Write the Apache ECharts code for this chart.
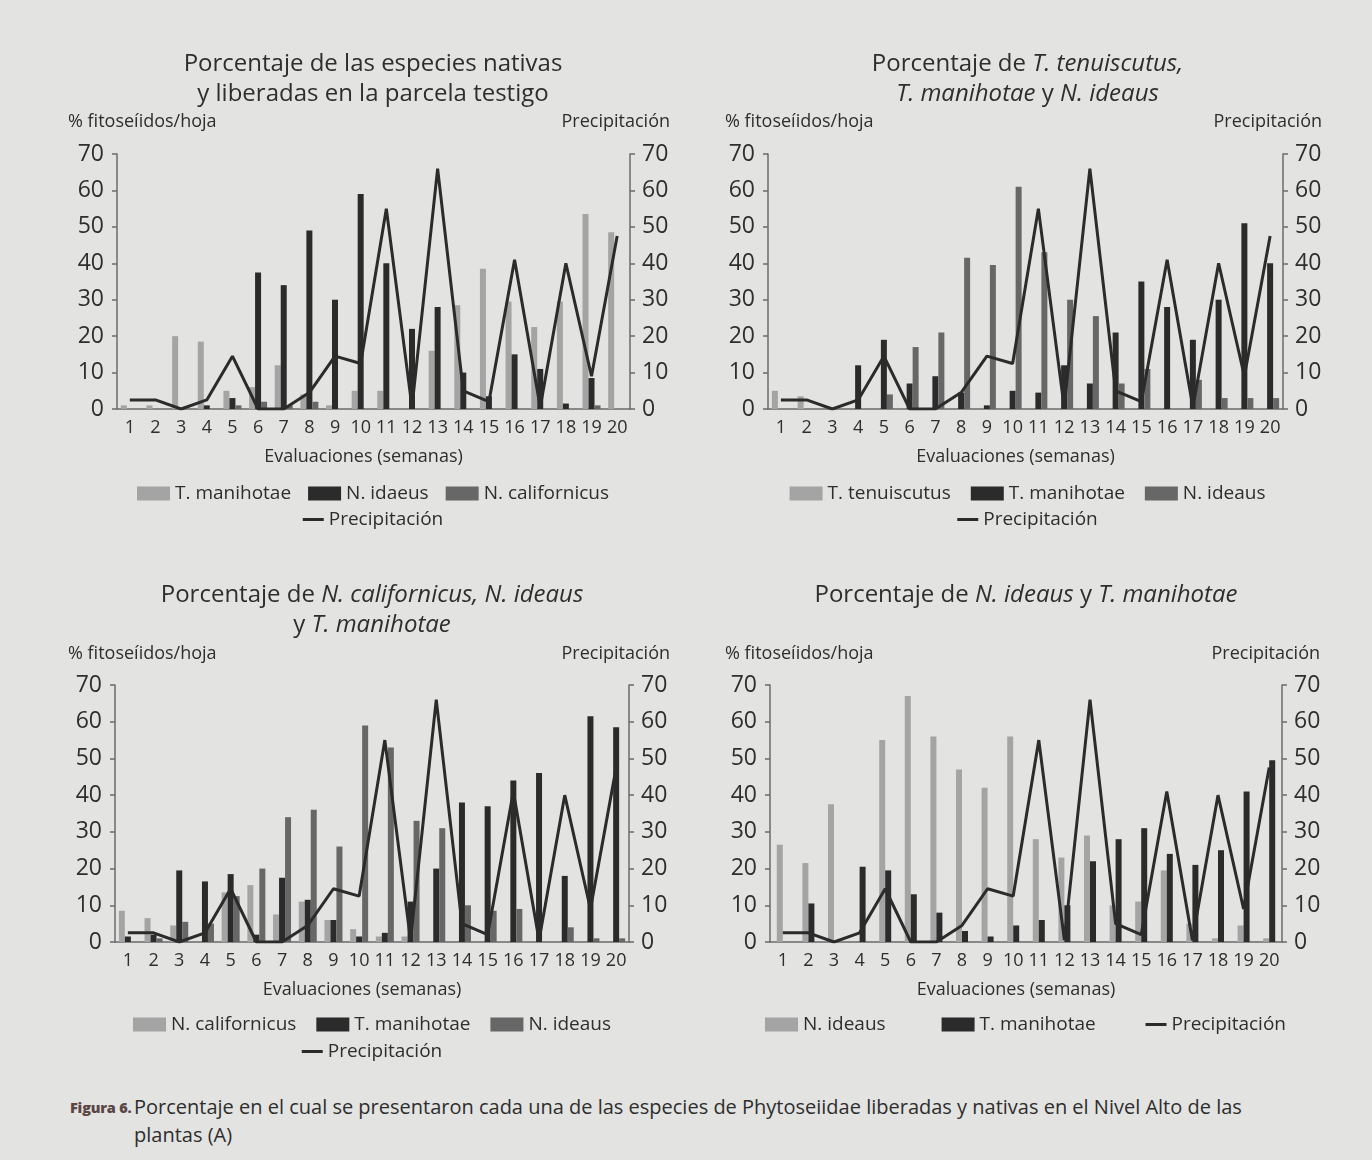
<!DOCTYPE html>
<html>
<head>
<meta charset="utf-8">
<script src="https://cdn.jsdelivr.net/npm/echarts@6/dist/echarts.min.js"></script>
<style>
  html, body { margin: 0; padding: 0; }
  body {
    width: 1372px; height: 1160px; position: relative; overflow: hidden;
    background: #e3e3e1; font-family: "Open Sans", Lato, sans-serif; color: #2e2e2e;
  }
  .panel { position: absolute; }
  #caption { position: absolute; left: 0; top: 1093px; width: 1372px; font-size: 20px; line-height: 28px; }
  #caption b {
    position: absolute; left: 70px; top: 1px; white-space: nowrap; color: #5b4646;
    font-weight: 800; font-size: 14.5px; letter-spacing: -0.2px;
  }
  #caption span { position: absolute; left: 134px; width: 1230px; }
</style>
</head>
<body>
<div id="p1" class="panel" style="left:0;top:0;width:746px;height:540px"></div>
<div id="p2" class="panel" style="left:683px;top:0;width:689px;height:540px"></div>
<div id="p3" class="panel" style="left:0;top:540px;width:744px;height:540px"></div>
<div id="p4" class="panel" style="left:680px;top:540px;width:692px;height:540px"></div>
<div id="caption"><b>Figura 6.</b><span>Porcentaje en el cual se presentaron cada una de las especies de Phytoseiidae liberadas y nativas en el Nivel Alto de las<br>plantas (A)</span></div>

<script>
// Weekly evaluations and rainfall (shared by all four panels)
const weeks = ['1','2','3','4','5','6','7','8','9','10','11','12','13','14','15','16','17','18','19','20'];
const precipitacion = [2.5, 2.5, 0, 2.5, 14.5, 0, 0, 4.5, 14.5, 12.5, 55, 0.5, 66, 5, 2, 41, 0.5, 40, 9, 47.5];
const yTicks = { min: 0, max: 70, interval: 10 };

// Panel 1: control plot
const p1Manihotae    = [1, 1, 20, 18.5, 5, 6, 12, 4, 1, 5, 5, 0, 16, 28.5, 38.5, 29.5, 22.5, 29.5, 53.5, 48.5];
const p1Idaeus       = [0, 0, 0, 1, 3, 37.5, 34, 49, 30, 59, 40, 22, 28, 10, 3.5, 15, 11, 1.5, 8.5, 0];
const p1Californicus = [0, 0, 0, 0, 1, 2, 1, 2, 0, 0, 0, 0, 0, 0, 0, 0, 0, 0, 1, 0];

// Panel 2: T. tenuiscutus, T. manihotae, N. ideaus
const p2Tenuiscutus = [5, 3.5, 0, 0, 0, 0, 0, 0, 0, 0, 0, 0, 0, 0, 0, 0, 0, 0, 0, 0];
const p2Manihotae   = [0, 0, 0, 12, 19, 7, 9, 4.5, 1, 5, 4.5, 12, 7, 21, 35, 28, 19, 30, 51, 40];
const p2Ideaus      = [0, 0, 0, 0, 4, 17, 21, 41.5, 39.5, 61, 43, 30, 25.5, 7, 11, 0, 8, 3, 3, 3];

// Panel 3: N. californicus, T. manihotae, N. ideaus
const p3Californicus = [8.5, 6.5, 4.5, 0, 13.5, 15.5, 7.5, 11, 6, 3.5, 1.5, 1.5, 0, 0, 0, 0, 0, 0, 0, 0];
const p3Manihotae    = [1.5, 2, 19.5, 16.5, 18.5, 2, 17.5, 11.5, 6, 1.5, 2.5, 11, 20, 38, 37, 44, 46, 18, 61.5, 58.5];
const p3Ideaus       = [0, 1, 5.5, 5, 12.5, 20, 34, 36, 26, 59, 53, 33, 31, 10, 8.5, 9, 0, 4, 1, 1];

// Panel 4: N. ideaus, T. manihotae
const p4Ideaus    = [26.5, 21.5, 37.5, 0, 55, 67, 56, 47, 42, 56, 28, 23, 29, 10, 11, 19.5, 5, 1, 4.5, 1];
const p4Manihotae = [0, 10.5, 0, 20.5, 19.5, 13, 8, 3, 1.5, 4.5, 6, 10, 22, 28, 31, 24, 21, 25, 41, 49.5];

const FONT = '"Open Sans", Lato, sans-serif';
const INK = '#2e2e2e';
const AXIS = '#6b6b6b';
const LIGHT = '#a4a4a4', DARK = '#2b2b2b', MID = '#676767';

function yAxis(pos, margin) {
  return {
    type: 'value', position: pos, min: yTicks.min, max: yTicks.max, interval: yTicks.interval,
    axisLine: { show: true, lineStyle: { color: AXIS, width: 1.5 } },
    axisTick: { show: true, length: 5, lineStyle: { color: AXIS, width: 1.5 } },
    splitLine: { show: false },
    axisLabel: { fontSize: 23, color: INK, fontFamily: FONT, margin: margin }
  };
}

function buildPanel(id, p) {
  const chart = echarts.init(document.getElementById(id), null, { renderer: 'canvas' });
  const series = p.bars.map(b => ({
    type: 'bar', name: b.name, data: b.data, yAxisIndex: 0,
    barWidth: 6, barGap: '0%', itemStyle: { color: b.color }
  }));
  series.push({
    type: 'line', name: 'Precipitación', data: precipitacion, yAxisIndex: 1,
    symbol: 'none', lineStyle: { color: DARK, width: 3 }, itemStyle: { color: DARK }, z: 5
  });

  const legendText = { fontSize: 19, color: INK, fontFamily: FONT };
  const legends = p.legends.map(l => Object.assign({
    textStyle: legendText, itemGap: 17, selectedMode: false
  }, l));

  chart.setOption({
    animation: false,
    title: {
      text: p.title, left: 'center', top: p.titleTop,
      textStyle: {
        fontFamily: FONT, fontSize: 24, fontWeight: 'normal', color: INK, lineHeight: 30,
        rich: { i: { fontFamily: FONT, fontSize: 24, fontStyle: 'italic', color: INK, lineHeight: 30 } }
      }
    },
    legend: legends,
    grid: {
      left: p.grid.left, top: p.grid.top, width: p.grid.width, height: p.grid.height,
      outerBoundsMode: 'none'
    },
    xAxis: {
      type: 'category', data: weeks, boundaryGap: true,
      axisLine: { lineStyle: { color: AXIS, width: 1.5 } },
      axisTick: { alignWithLabel: true, length: 5, lineStyle: { color: AXIS, width: 1.5 } },
      axisLabel: { interval: 0, fontSize: 18, color: INK, fontFamily: FONT, margin: 10 },
      name: 'Evaluaciones (semanas)', nameLocation: 'middle', nameGap: 39,
      nameTextStyle: { fontSize: 18, color: INK, fontFamily: FONT, padding: [0, 20, 0, 0] }
    },
    yAxis: [yAxis('left', 13), yAxis('right', 12)],
    graphic: [
      { type: 'text', left: p.leftName, top: p.nameTop,
        style: { text: '% fitoseíidos/hoja', fontSize: 18, fontFamily: FONT, fill: INK } },
      { type: 'text', right: p.rightName, top: p.nameTop,
        style: { text: 'Precipitación', fontSize: 18, fontFamily: FONT, fill: INK } }
    ],
    series: series
  });
}

// a flat bar icon stands for the rainfall line in the legends
const lineKey = { icon: 'rect', itemWidth: 21, itemHeight: 3 };

buildPanel('p1', {
  title: 'Porcentaje de las especies nativas\ny liberadas en la parcela testigo',
  titleTop: 44,
  grid: { left: 117, top: 154, width: 513, height: 255 },
  leftName: 68, rightName: 76, nameTop: 113,
  bars: [
    { name: 'T. manihotae', data: p1Manihotae, color: LIGHT },
    { name: 'N. idaeus', data: p1Idaeus, color: DARK },
    { name: 'N. californicus', data: p1Californicus, color: MID }
  ],
  legends: [
    { data: ['T. manihotae', 'N. idaeus', 'N. californicus'], top: 479, left: 'center',
      icon: 'rect', itemWidth: 33, itemHeight: 14 },
    Object.assign({ data: ['Precipitación'], top: 505, left: 'center' }, lineKey)
  ]
});

buildPanel('p2', {
  title: 'Porcentaje de {i|T. tenuiscutus,}\n{i|T. manihotae} y {i|N. ideaus}',
  titleTop: 44,
  grid: { left: 85, top: 154, width: 515, height: 255 },
  leftName: 42, rightName: 50, nameTop: 113,
  bars: [
    { name: 'T. tenuiscutus', data: p2Tenuiscutus, color: LIGHT },
    { name: 'T. manihotae', data: p2Manihotae, color: DARK },
    { name: 'N. ideaus', data: p2Ideaus, color: MID }
  ],
  legends: [
    { data: ['T. tenuiscutus', 'T. manihotae', 'N. ideaus'], top: 479, left: 'center',
      icon: 'rect', itemWidth: 33, itemHeight: 14, itemGap: 20 },
    Object.assign({ data: ['Precipitación'], top: 505, left: 'center' }, lineKey)
  ]
});

buildPanel('p3', {
  title: 'Porcentaje de {i|N. californicus, N. ideaus}\ny {i|T. manihotae}',
  titleTop: 35,
  grid: { left: 115, top: 145, width: 514, height: 257 },
  leftName: 68, rightName: 74, nameTop: 105,
  bars: [
    { name: 'N. californicus', data: p3Californicus, color: LIGHT },
    { name: 'T. manihotae', data: p3Manihotae, color: DARK },
    { name: 'N. ideaus', data: p3Ideaus, color: MID }
  ],
  legends: [
    { data: ['N. californicus', 'T. manihotae', 'N. ideaus'], top: 470, left: 'center',
      icon: 'rect', itemWidth: 33, itemHeight: 14, itemGap: 20 },
    Object.assign({ data: ['Precipitación'], top: 497, left: 'center' }, lineKey)
  ]
});

buildPanel('p4', {
  title: 'Porcentaje de {i|N. ideaus} y {i|T. manihotae}',
  titleTop: 35,
  grid: { left: 90, top: 145, width: 512, height: 257 },
  leftName: 45, rightName: 52, nameTop: 105,
  bars: [
    { name: 'N. ideaus', data: p4Ideaus, color: LIGHT },
    { name: 'T. manihotae', data: p4Manihotae, color: DARK }
  ],
  legends: [
    { data: ['N. ideaus', 'T. manihotae'], top: 470, left: 80,
      icon: 'rect', itemWidth: 33, itemHeight: 14, itemGap: 56 },
    Object.assign({ data: ['Precipitación'], top: 470, right: 81 }, lineKey)
  ]
});
</script>
</body>
</html>
